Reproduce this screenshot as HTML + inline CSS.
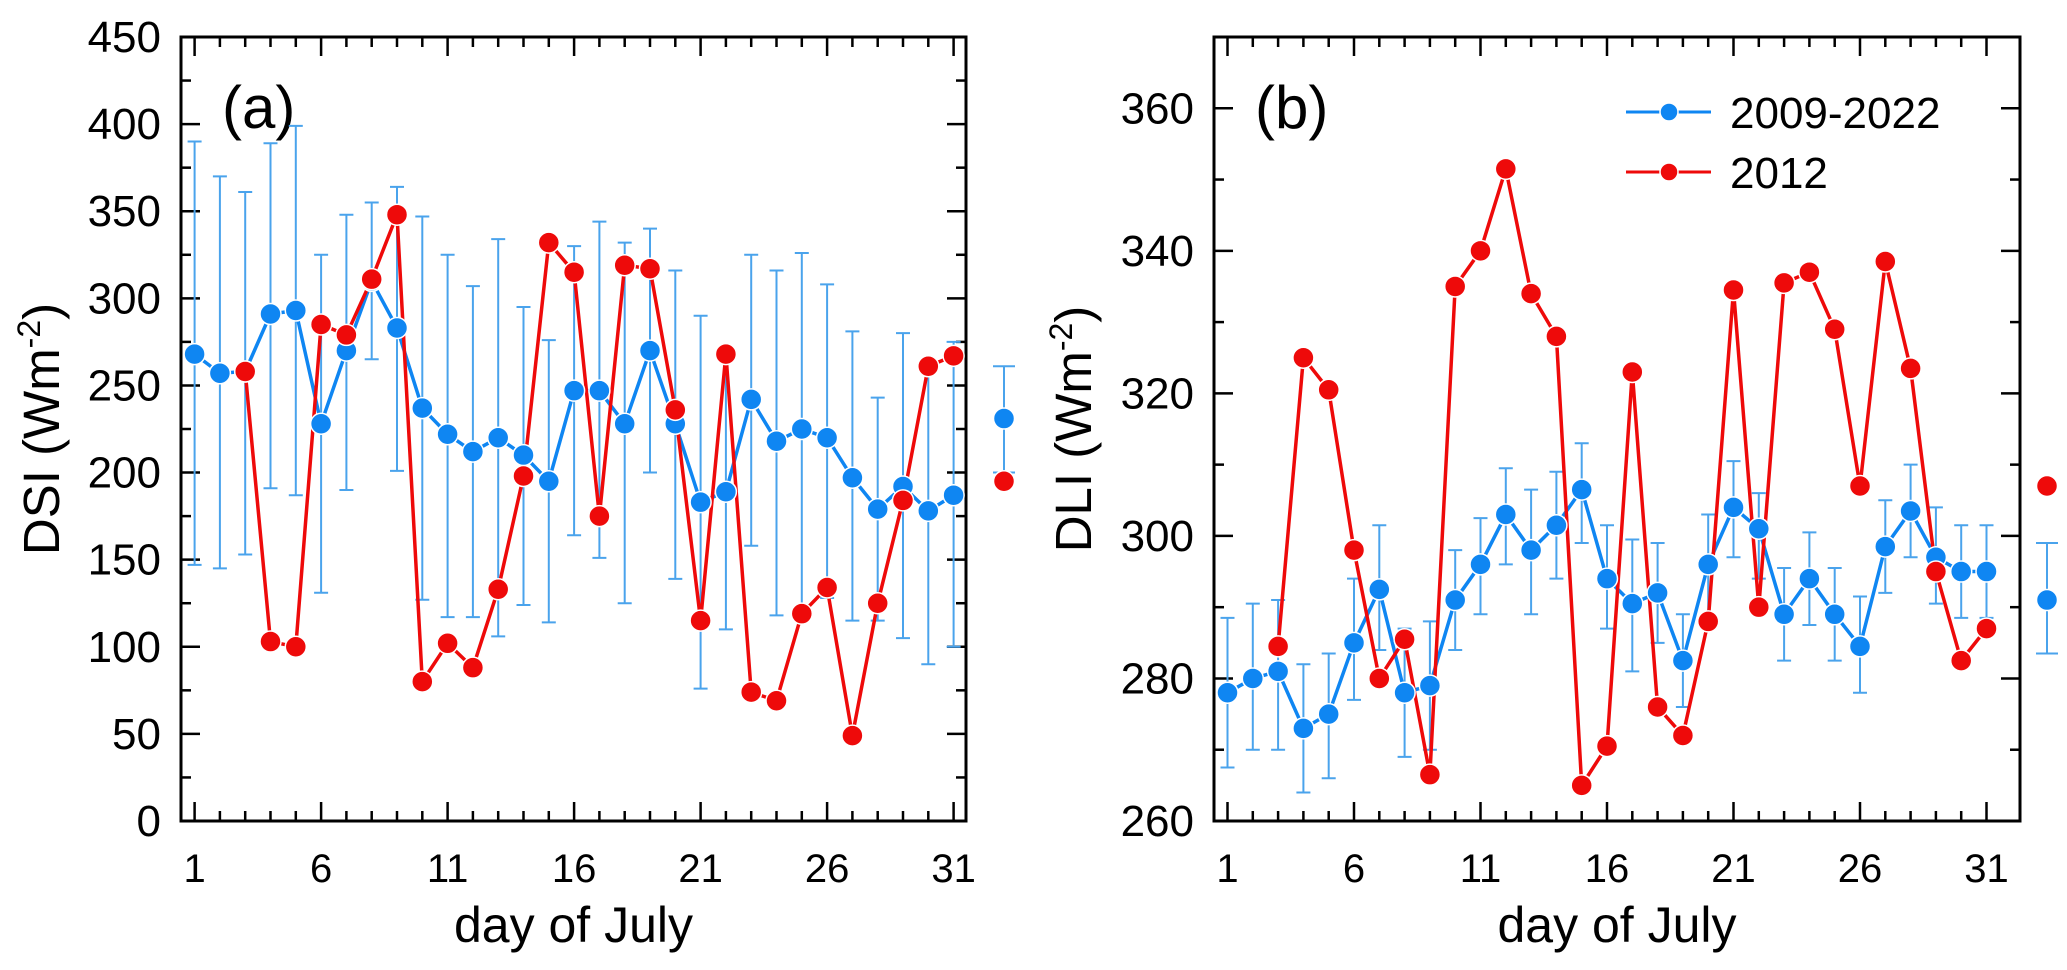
<!DOCTYPE html>
<html><head><meta charset="utf-8">
<style>
html,body{margin:0;padding:0;background:#fff;}
svg{display:block;font-family:"Liberation Sans",Arial,sans-serif;}
</style></head>
<body>
<svg id="chart" width="2067" height="970" viewBox="0 0 2067 970" xmlns="http://www.w3.org/2000/svg"></svg>
<script>
const days = [1,2,3,4,5,6,7,8,9,10,11,12,13,14,15,16,17,18,19,20,21,22,23,24,25,26,27,28,29,30,31];
const xTicks = [1,6,11,16,21,26,31];
// Panel a: DSI
const dsiMean = [268,257,258,291,293,228,270,310,283,237,222,212,220,210,195,247,247,228,270,228,183,189,242,218,225,220,197,179,192,178,187];
const dsiUpper = [390,370,361,389,399,325,348,355,364,347,325,307,334,295,276,330,344,332,340,316,290,270,325,316,326,308,281,243,280,265,275];
const dsiLower = [147,145,153,191,187,131,190,265,201,127,117,117,106,124,114,164,151,125,200,139,76,110,158,118,115,128,115,115,105,90,100];
const dsi2012Days = [3,4,5,6,7,8,9,10,11,12,13,14,15,16,17,18,19,20,21,22,23,24,25,26,27,28,29,30,31];
const dsi2012 = [258,103,100,285,279,311,348,80,102,88,133,198,332,315,175,319,317,236,115,268,74,69,119,134,49,125,184,261,267];
const dsiSummary = [231,261,200,195]; // mean, upper, lower, 2012
const dsiTicks = [0,50,100,150,200,250,300,350,400,450];
// Panel b: DLI
const dliMean = [278,280,281,273,275,285,292.5,278,279,291,296,303,298,301.5,306.5,294,290.5,292,282.5,296,304,301,289,294,289,284.5,298.5,303.5,297,295,295];
const dliUpper = [288.5,290.5,291,282,283.5,294,301.5,287,288,298,302.5,309.5,306.5,309,313,301.5,299.5,299,289,303,310.5,306,295.5,300.5,295.5,291.5,305,310,304,301.5,301.5];
const dliLower = [267.5,270,270,264,266,277,284,269,270,284,289,296,289,294,299,287,281,285,276,289,297,294,282.5,287.5,282.5,278,292,297,290.5,288.5,288.5];
const dli2012Days = [3,4,5,6,7,8,9,10,11,12,13,14,15,16,17,18,19,20,21,22,23,24,25,26,27,28,29,30,31];
const dli2012 = [284.5,325,320.5,298,280,285.5,266.5,335,340,351.5,334,328,265,270.5,323,276,272,288,334.5,290,335.5,337,329,307,338.5,323.5,295,282.5,287];
const dliSummary = [291,299,283.5,307];
const dliTicks = [260,280,300,320,340,360];

const NS="http://www.w3.org/2000/svg";
const svg=document.getElementById('chart');
const BLUE="#0f86f2", EBAR="#4aa3ec", RED="#ee0a0a";
const MR=10.5;
function el(tag,attrs,parent){const e=document.createElementNS(NS,tag);for(const k in attrs)e.setAttribute(k,attrs[k]);(parent||svg).appendChild(e);return e;}

function panel(cfg){
  const g=el('g',{});
  
  
  const L=cfg.left,R=cfg.right,T=37,B=821;
  const xs=d=>cfg.x1+(d-1)*25.3;
  const ys=v=>B-(v-cfg.ymin)/(cfg.ymax-cfg.ymin)*(B-T);
  const fr=el('rect',{x:L,y:T,width:R-L,height:B-T,fill:'none',stroke:'#000','stroke-width':3},g);
  
  
  for(let d=1;d<=31;d++){
    const major=xTicks.includes(d);const len=major?19:10;const x=xs(d);
    el('line',{x1:x,x2:x,y1:B,y2:B-len,stroke:'#000','stroke-width':2.5},g);
    el('line',{x1:x,x2:x,y1:T,y2:T+len,stroke:'#000','stroke-width':2.5},g);
  }
  xTicks.forEach(d=>{
    const t=el('text',{x:xs(d),y:882,'font-size':40,'text-anchor':'middle'},g);t.textContent=d;
    
    
  });
  const tk=cfg.ticks;const step=tk[1]-tk[0];
  for(let v=cfg.ymin;v<=cfg.ymax+0.01;v+=step/2){
    const major=tk.includes(v);const len=major?19:10;const y=ys(v);
    el('line',{x1:L,x2:L+len,y1:y,y2:y,stroke:'#000','stroke-width':2.5},g);
    el('line',{x1:R,x2:R-len,y1:y,y2:y,stroke:'#000','stroke-width':2.5},g);
  }
  tk.forEach(v=>{
    const t=el('text',{x:L-20,y:ys(v)+15,'font-size':44,'text-anchor':'end'},g);t.textContent=v;
    
    
  });
  const xt=el('text',{x:(L+R)/2,y:942,'font-size':50,'text-anchor':'middle'},g);xt.textContent='day of July';
  
  
  const yt=el('text',{x:0,y:0,'font-size':51,'text-anchor':'middle',transform:`translate(${cfg.ytx},${(T+B)/2}) rotate(-90)`},g);
  yt.innerHTML=cfg.ylabel+' (Wm<tspan font-size="32" dy="-19">-2</tspan><tspan dy="19">)</tspan>';
  
  
  const pl=el('text',{x:L+41,y:128,'font-size':60},g);pl.textContent=cfg.label;
  
  
  days.forEach((d,i)=>{
    const x=xs(d);
    const eb=el('path',{d:`M${x} ${ys(cfg.up[i])}V${ys(cfg.lo[i])}M${x-7} ${ys(cfg.up[i])}H${x+7}M${x-7} ${ys(cfg.lo[i])}H${x+7}`,stroke:EBAR,'stroke-width':2,fill:'none'},g);
    
    
  });
  const bl=el('polyline',{points:days.map((d,i)=>xs(d)+','+ys(cfg.mean[i])).join(' '),fill:'none',stroke:BLUE,'stroke-width':3.5},g);
  
  
  const rl=el('polyline',{points:cfg.rdays.map((d,i)=>xs(d)+','+ys(cfg.red[i])).join(' '),fill:'none',stroke:RED,'stroke-width':3.5},g);
  
  
  days.forEach((d,i)=>{
    const c=el('circle',{cx:xs(d),cy:ys(cfg.mean[i]),r:MR,fill:BLUE,stroke:'#fff','stroke-width':1.5},g);
    
    
  });
  cfg.rdays.forEach((d,i)=>{
    const c=el('circle',{cx:xs(d),cy:ys(cfg.red[i]),r:MR,fill:RED,stroke:'#fff','stroke-width':1.5},g);
    
    
  });
  const sx=cfg.sx,s=cfg.sum;
  const se=el('path',{d:`M${sx} ${ys(s[1])}V${ys(s[2])}M${sx-11} ${ys(s[1])}H${sx+11}M${sx-11} ${ys(s[2])}H${sx+11}`,stroke:EBAR,'stroke-width':2,fill:'none'},svg);
  
  
  const sb=el('circle',{cx:sx,cy:ys(s[0]),r:MR,fill:BLUE,stroke:'#fff','stroke-width':1.5},svg);
  
  
  const sr=el('circle',{cx:sx,cy:ys(s[3]),r:MR,fill:RED,stroke:'#fff','stroke-width':1.5},svg);
  
  
}

panel({name:'panel-a-dsi',left:181,right:966,x1:194.6,ymin:0,ymax:450,ticks:dsiTicks,mean:dsiMean,up:dsiUpper,lo:dsiLower,rdays:dsi2012Days,red:dsi2012,sum:dsiSummary,sx:1004,ytx:59,ylabel:'DSI',label:'(a)'});
panel({name:'panel-b-dli',left:1214,right:2020,x1:1227.5,ymin:260,ymax:370,ticks:dliTicks,mean:dliMean,up:dliUpper,lo:dliLower,rdays:dli2012Days,red:dli2012,sum:dliSummary,sx:2047,ytx:1091,ylabel:'DLI',label:'(b)'});

const lg=el('g',{});


[[BLUE,'2009-2022',112],[RED,'2012',172]].forEach(([c,txt,y])=>{
  const e=el('g',{},lg);
  
  
  el('line',{x1:1626,x2:1711,y1:y,y2:y,stroke:c,'stroke-width':3},e);
  el('circle',{cx:1669,cy:y,r:9,fill:c,stroke:'#fff','stroke-width':1.5},e);
  const t=el('text',{x:1730,y:y+16,'font-size':44},e);t.textContent=txt;
});
</script>
</body></html>
